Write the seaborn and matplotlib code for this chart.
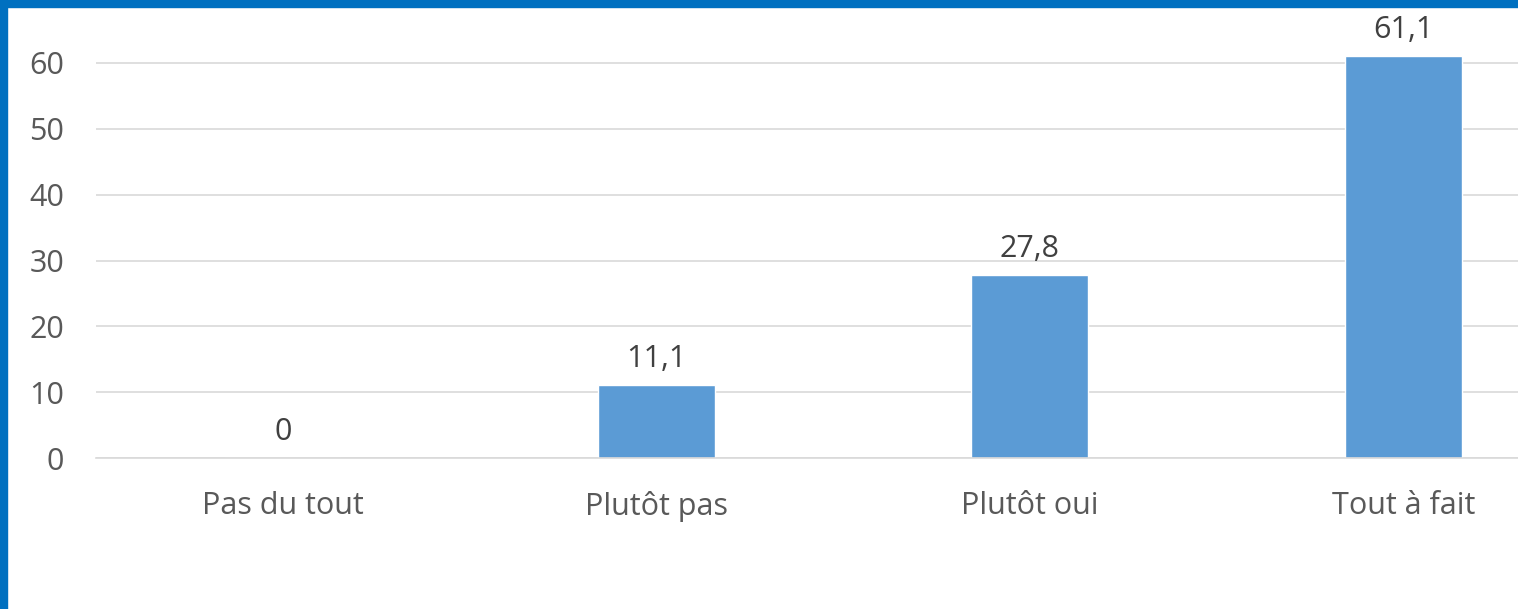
import matplotlib
matplotlib.use("Agg")
import matplotlib.pyplot as plt
import seaborn as sns
import pandas as pd
from matplotlib.patches import Rectangle

categories = ["Pas du tout", "Plutôt pas", "Plutôt oui", "Tout à fait"]
values = [0, 11.1, 27.8, 61.1]
labels = ["0", "11,1", "27,8", "61,1"]
yticks = [0, 10, 20, 30, 40, 50, 60]

sns.set_theme(style="white")
plt.rcParams['font.family'] = ['Open Sans', 'DejaVu Sans']

W, H = 1518, 609
fig = plt.figure(figsize=(W / 100, H / 100), dpi=100)
ax_left, ax_right, ax_bottom, ax_top = 96, 1590, 458, 0
ax = fig.add_axes([ax_left / W, (H - ax_bottom) / H, (ax_right - ax_left) / W, (ax_bottom - ax_top) / H])

df = pd.DataFrame({"cat": categories, "val": values})
sns.barplot(data=df, x="cat", y="val", color="#5B9BD5", width=0.313, ax=ax, saturation=1)

ppu = (458 - 63) / 60.0
ax.set_ylim(0, 458 / ppu)
ax.set_xlim(-0.5, 3.5)
ax.set_yticks(yticks)
ax.set_yticklabels([str(t) for t in yticks])
ax.yaxis.grid(True, color="#D9D9D9", linewidth=1.2)
ax.set_axisbelow(True)
for s in ["top", "right", "left"]:
    ax.spines[s].set_visible(False)
ax.spines["bottom"].set_color("#D9D9D9")
ax.spines["bottom"].set_linewidth(1.2)
ax.set_xlabel("")
ax.set_ylabel("")
fs = 22
ax.tick_params(axis="y", length=0, pad=23, labelsize=fs, labelcolor="#595959")
ax.tick_params(axis="x", length=0, pad=24, labelsize=fs, labelcolor="#595959")

for i, (v, lab) in enumerate(zip(values, labels)):
    ax.annotate(lab, (i, v), xytext=(0, 8), textcoords="offset points",
                ha="center", va="bottom", fontsize=fs, color="#404040")

# blue frame
fig.patches.append(Rectangle((0, 0), 7 / W, 1, transform=fig.transFigure, color="#0070C0", zorder=10))
fig.patches.append(Rectangle((0, 1 - 7 / H), 1, 7 / H, transform=fig.transFigure, color="#0070C0", zorder=10))

fig.savefig("out.png", dpi=100)
